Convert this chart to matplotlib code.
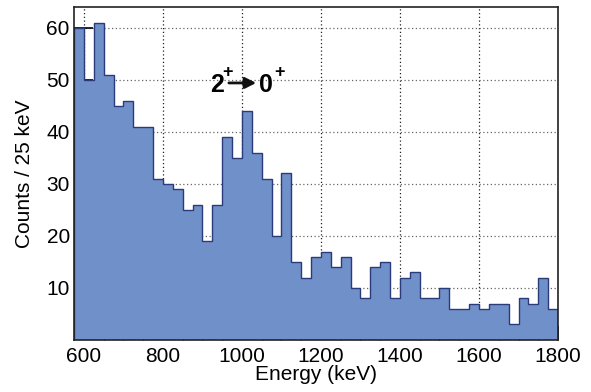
import numpy as np
import matplotlib
matplotlib.use("Agg")
import matplotlib.pyplot as plt
from matplotlib.ticker import MultipleLocator

plt.rcParams['font.family'] = ['Liberation Sans', 'DejaVu Sans']

# histogram data, 25 keV bins starting at 575 keV
bin_start = 575
bin_width = 25
counts = [60, 50, 61, 51, 45, 46, 41, 41, 31, 30,
          29, 25, 26, 19, 26, 39, 35, 44, 36, 31,
          20, 32, 15, 12, 16, 17, 14, 16, 10, 8,
          14, 15, 8, 12, 13, 8, 8, 10, 6, 6,
          7, 6, 7, 7, 3, 8, 7, 12, 6]

edges = bin_start + bin_width * np.arange(len(counts) + 1)

fig = plt.figure(figsize=(5.91, 3.92), dpi=100)
ax = fig.add_axes([0.1252, 0.1327, 0.819, 0.8495])

ax.stairs(counts, edges, fill=True, color='#7090c9', zorder=2)
ax.stairs(counts, edges, color='#2a3a7a', linewidth=1.0, zorder=3)

ax.set_xlim(575, 1800)
ax.set_ylim(0, 64)

ax.xaxis.set_major_locator(MultipleLocator(200))
ax.xaxis.set_minor_locator(MultipleLocator(50))
ax.set_yticks([10, 20, 30, 40, 50, 60])

ax.xaxis.grid(True, which='major', linestyle=(0, (1, 2)), color='#222222', linewidth=0.9)
ax.yaxis.grid(True, which='major', linestyle=(0, (1, 2)), color='#666666', linewidth=0.9)
ax.set_axisbelow(True)

ax.tick_params(axis='x', which='major', direction='in', length=10, width=1.2, labelsize=15, pad=5)
ax.tick_params(axis='x', which='minor', direction='in', length=6, width=1.0)
ax.tick_params(axis='y', which='major', direction='in', length=14, width=1.2, labelsize=15, pad=3)
ax.tick_params(top=False, right=False)

for s in ax.spines.values():
    s.set_linewidth(1.2)
    s.set_color('#222222')
    s.set_zorder(4)

ax.set_xlabel('Energy (keV)', fontsize=15, labelpad=-1)
ax.set_ylabel('Counts / 25 keV', fontsize=15, labelpad=9)

# transition label: 2+ -> 0+
ax.text(920, 47.6, '2', fontsize=18, fontweight='bold', ha='left', va='baseline', zorder=5)
ax.text(950, 50.6, '+', fontsize=13, fontweight='bold', ha='left', va='baseline', zorder=5)
ax.text(1044, 47.6, '0', fontsize=18, fontweight='bold', ha='left', va='baseline', zorder=5)
ax.text(1081, 50.6, '+', fontsize=13, fontweight='bold', ha='left', va='baseline', zorder=5)
ax.annotate('', xy=(1036, 49.4), xytext=(967, 49.4),
            arrowprops=dict(arrowstyle='-|>,head_length=0.65,head_width=0.33',
                            color='#111111', lw=2.0, shrinkA=0, shrinkB=0),
            zorder=5)

fig.savefig('out.png', dpi=100)
